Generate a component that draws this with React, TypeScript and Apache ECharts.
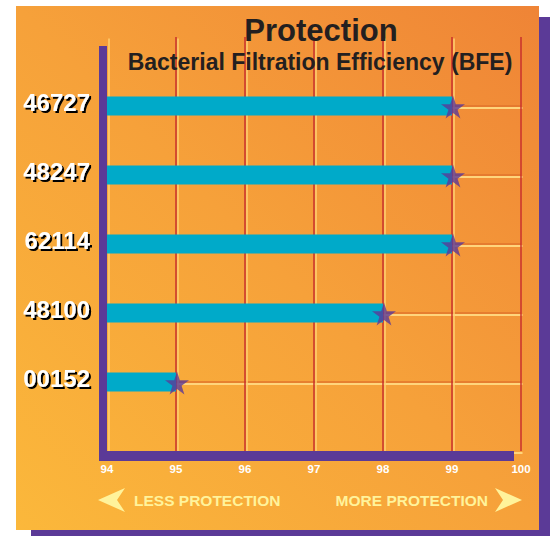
import React, { useEffect, useRef } from "react";
import * as echarts from "echarts";

const categories = ["46727", "48247", "62114", "48100", "00152"];
const bfeValues = [99, 99, 99, 98, 95];
const xTicks = [94, 95, 96, 97, 98, 99, 100];
const titleText = "Protection";
const subtitleText = "Bacterial Filtration Efficiency (BFE)";
const lessText = "LESS PROTECTION";
const moreText = "MORE PROTECTION";

const STAR =
  "path://M50,0 L61.2,34.5 L97.6,34.5 L68.2,55.9 L79.4,90.5 L50,69.1 L20.6,90.5 L31.8,55.9 L2.4,34.5 L38.8,34.5 Z";

export default function App() {
  const ref = useRef<HTMLDivElement>(null);
  useEffect(() => {
    if (!ref.current) return;
    const chart = echarts.init(ref.current, null, { renderer: "svg" });
    const yCats = [" ", ...categories.slice().reverse(), "  "];
    const barData = categories.map((c, i) => [bfeValues[i], c]);
    const n = yCats.length;
    const hColorsA = yCats.map((_, i) => (i === 0 || i === n - 1 ? "rgba(0,0,0,0)" : "#e2742c"));
    const hColorsB = yCats.map((_, i) => (i === n - 1 ? "rgba(0,0,0,0)" : "#ffd57c"));
    const vColorsA = xTicks.map((_, i) => (i === 0 ? "rgba(0,0,0,0)" : "#c9302c"));
    const vColorsB = xTicks.map((_, i) => (i === xTicks.length - 1 ? "rgba(0,0,0,0)" : "#ffd070"));

    const xMin = xTicks[0];
    const xMax = xTicks[xTicks.length - 1];

    chart.setOption({
      animation: false,
      title: [
        {
          text: titleText,
          left: 321,
          top: 15,
          textAlign: "center",
          padding: 0,
          textStyle: {
            fontFamily: "Liberation Sans",
            fontWeight: "bold",
            fontSize: 31,
            color: "#231f20",
          },
        },
        {
          text: subtitleText,
          left: 320,
          top: 50,
          textAlign: "center",
          padding: 0,
          textStyle: {
            fontFamily: "Liberation Sans",
            fontWeight: "bold",
            fontSize: 23,
            color: "#231f20",
          },
        },
      ],
      graphic: [
        {
          type: "rect",
          z: -10,
          silent: true,
          shape: { x: 539, y: 17, width: 11, height: 519 },
          style: { fill: "#5b3a97" },
        },
        {
          type: "rect",
          z: -10,
          silent: true,
          shape: { x: 31, y: 530, width: 519, height: 6 },
          style: { fill: "#5b3a97" },
        },
        {
          type: "rect",
          z: -9,
          silent: true,
          shape: { x: 16, y: 6, width: 523, height: 524 },
          style: {
            fill: new echarts.graphic.LinearGradient(0, 1, 1, 0, [
              { offset: 0, color: "#fbb83b" },
              { offset: 0.5, color: "#f6a13a" },
              { offset: 1, color: "#ef8436" },
            ]),
          },
        },
        {
          type: "rect",
          z: 5,
          silent: true,
          shape: { x: 99, y: 46, width: 8, height: 415 },
          style: { fill: "#5b3a97" },
        },
        {
          type: "rect",
          z: 5,
          silent: true,
          shape: { x: 99, y: 451, width: 415, height: 10 },
          style: { fill: "#5b3a97" },
        },
        {
          type: "polygon",
          z: 5,
          shape: { points: [[98, 500], [125, 488], [117, 500], [125, 512]] },
          style: { fill: "#fff39b" },
        },
        {
          type: "polygon",
          z: 5,
          shape: { points: [[522, 500], [495, 488], [503, 500], [495, 512]] },
          style: { fill: "#fff39b" },
        },
        {
          type: "text",
          z: 5,
          x: 134,
          y: 500,
          style: {
            text: lessText,
            fontFamily: "Liberation Sans",
            fontWeight: "bold",
            fontSize: 15.5,
            fill: "#fff39b",
            textAlign: "left",
            textVerticalAlign: "middle",
          },
        },
        {
          type: "text",
          z: 5,
          x: 488,
          y: 500,
          style: {
            text: moreText,
            fontFamily: "Liberation Sans",
            fontWeight: "bold",
            fontSize: 15.5,
            fill: "#fff39b",
            textAlign: "right",
            textVerticalAlign: "middle",
          },
        },
      ],
      grid: [
        { left: 107, right: 29, top: 37, bottom: 85, containLabel: false },
        { left: 108.5, right: 27.5, top: 38.5, bottom: 83.5, containLabel: false },
      ],
      xAxis: [
        {
          type: "value",
          gridIndex: 0,
          min: xMin,
          max: xMax,
          interval: 1,
          axisLine: { show: false },
          axisTick: { show: false },
          axisLabel: {
            color: "#ffffff",
            fontFamily: "Liberation Sans",
            fontWeight: "bold",
            fontSize: 11.5,
            margin: 12,
          },
          splitLine: { show: true, lineStyle: { color: vColorsA, width: 1.5 } },
        },
        {
          type: "value",
          gridIndex: 1,
          min: xMin,
          max: xMax,
          interval: 1,
          axisLine: { show: false },
          axisTick: { show: false },
          axisLabel: { show: false },
          splitLine: { show: true, lineStyle: { color: vColorsB, width: 1.5 } },
        },
      ],
      yAxis: [
        {
          type: "category",
          gridIndex: 0,
          data: yCats,
          boundaryGap: false,
          axisLine: { show: false },
          axisTick: { show: false },
          axisLabel: {
            interval: 0,
            margin: 17,
            formatter: (v: string) => "{a|" + v + "}",
            rich: {
              a: {
                color: "#ffffff",
                fontFamily: "Liberation Sans",
                fontWeight: "bold",
                fontSize: 24,
                padding: [0, 0, 7, 0],
                textShadowColor: "#000000",
                textShadowOffsetX: 2,
                textShadowOffsetY: 2,
                textShadowBlur: 1,
              },
            },
          },
          splitLine: { show: true, interval: 0, lineStyle: { color: hColorsA, width: 1.5 } },
        },
        {
          type: "category",
          gridIndex: 1,
          data: yCats,
          boundaryGap: false,
          axisLine: { show: false },
          axisTick: { show: false },
          axisLabel: { show: false },
          splitLine: { show: true, interval: 0, lineStyle: { color: hColorsB, width: 2 } },
        },
      ],
      series: [
        {
          type: "bar",
          xAxisIndex: 0,
          yAxisIndex: 0,
          data: barData,
          barWidth: 19,
          itemStyle: { color: "#00aac9" },
          z: 2,
        },
        {
          type: "scatter",
          xAxisIndex: 0,
          yAxisIndex: 0,
          data: barData,
          symbol: STAR,
          symbolSize: [24, 23],
          symbolOffset: [1, 1],
          itemStyle: { color: "#5b3a97" },
          z: 3,
        },
      ],
    });
    return () => chart.dispose();
  }, []);
  return (
    <div
      ref={ref}
      style={{ position: "absolute", left: 0, top: 0, width: 550, height: 536, background: "#ffffff" }}
    />
  );
}
